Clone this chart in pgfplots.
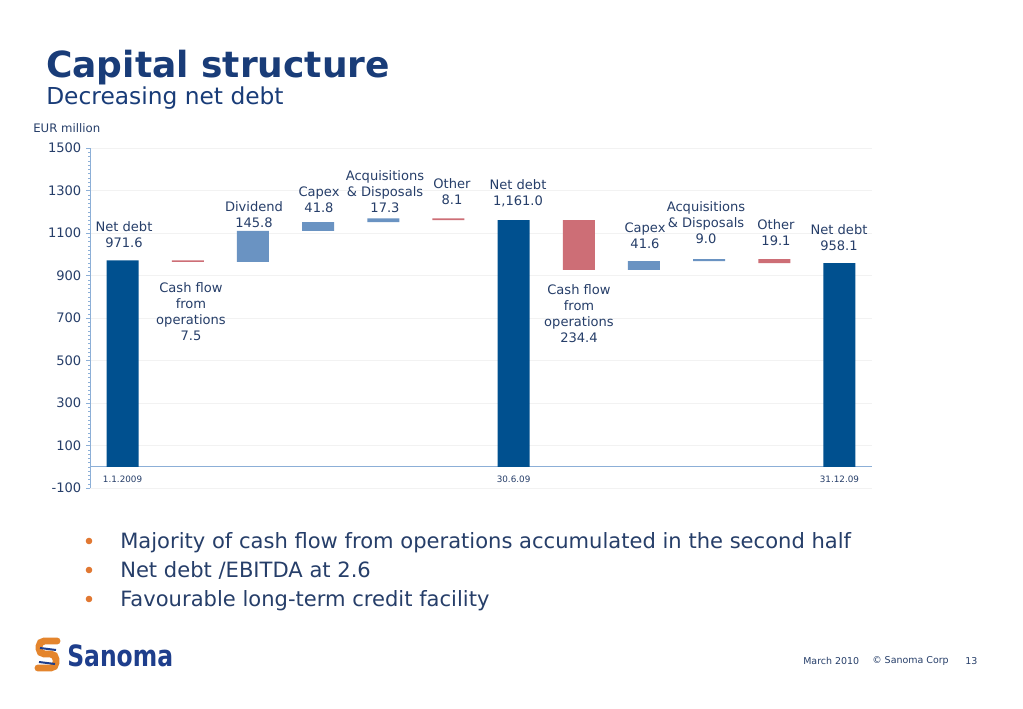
\documentclass[border=0pt]{standalone}
\usepackage{pgfplots}
\pgfplotsset{compat=1.18}
\usepackage{fontspec}
\setmainfont{DejaVu Sans}
\usepackage{graphicx}
\definecolor{dkblue}{RGB}{0,80,143}
\definecolor{stblue}{RGB}{106,147,194}
\definecolor{redbar}{RGB}{205,110,118}
\definecolor{txt}{RGB}{38,62,105}
\definecolor{ttl}{RGB}{25,60,120}
\definecolor{axl}{RGB}{140,175,215}
\definecolor{bul}{RGB}{225,120,50}
\definecolor{logoblue}{RGB}{30,62,140}
\begin{document}
\begin{tikzpicture}[x=0.75pt,y=0.75pt]
\fill[white] (0,0) rectangle (1023,708);
\begin{axis}[
 at={(67.5pt,165pt)}, anchor=south west,
 scale only axis, width=586.5pt, height=255pt,
 xmin=-0.5, xmax=11.5, ymin=-100, ymax=1500,
 ybar stacked, bar width=24pt,
 axis x line=none, axis y line=left,
 axis line style={-,draw=axl},
 ytick={-100,100,...,1500}, minor y tick num=9,
 xtick=\empty,
 tick align=outside,
 major tick length=3pt, minor tick length=1.5pt,
 tick style={draw=axl},
 ymajorgrids, major grid style={draw=black!5},
 yticklabel style={font=\fontsize{9.8}{12}\selectfont, text=txt},
 /pgf/number format/1000 sep={},
 /pgf/number format/assume math mode=true,
 clip=false,
]
\addplot[fill=none, draw=none] coordinates {(0,0) (1,964.1) (2,964.1) (3,1109.9) (4,1151.7) (5,1160.9) (6,0) (7,926.6) (8,926.6) (9,968.2) (10,958.1) (11,0)};
\addplot[fill=dkblue, draw=none] coordinates {(0,971.6) (1,0) (2,0) (3,0) (4,0) (5,0) (6,1161.0) (7,0) (8,0) (9,0) (10,0) (11,958.1)};
\addplot[fill=stblue, draw=none] coordinates {(0,0) (1,0) (2,145.8) (3,41.8) (4,17.3) (5,0) (6,0) (7,0) (8,41.6) (9,9.0) (10,0) (11,0)};
\addplot[fill=redbar, draw=none] coordinates {(0,0) (1,7.5) (2,0) (3,0) (4,0) (5,8.1) (6,0) (7,234.4) (8,0) (9,0) (10,19.1) (11,0)};
\draw[axl] (axis cs:-0.5,0) -- (axis cs:11.5,0);
\node[font=\fontsize{6.6}{8}\selectfont, text=txt] at (axis cs:0,-58) {1.1.2009};
\node[font=\fontsize{6.6}{8}\selectfont, text=txt] at (axis cs:6,-58) {30.6.09};
\node[font=\fontsize{6.6}{8}\selectfont, text=txt] at (axis cs:11,-58) {31.12.09};
\end{axis}
% title
\node[anchor=base west, font=\fontsize{27}{32}\selectfont\bfseries, text=ttl, inner sep=0pt] at (46,630) {Capital structure};
\node[anchor=base west, font=\fontsize{17.5}{21}\selectfont, text=ttl, inner sep=0pt] at (46,603) {Decreasing net debt};
\node[anchor=west, font=\fontsize{8.8}{10}\selectfont, text=txt, inner sep=0pt] at (33,580) {EUR million};
% annotations
\begin{scope}[every node/.style={font=\fontsize{9.8}{12}\selectfont, text=txt, align=center, inner sep=0pt}]
\node at (124,473) {Net debt\\971.6};
\node at (191,396.5) {Cash flow\\from\\operations\\7.5};
\node at (254,493) {Dividend\\145.8};
\node at (319,508) {Capex\\41.8};
\node at (385,516) {Acquisitions\\\& Disposals\\17.3};
\node at (452,516) {Other\\8.1};
\node at (518,515) {Net debt\\1,161.0};
\node at (579,394) {Cash flow\\from\\operations\\234.4};
\node at (645,472.5) {Capex\\41.6};
\node at (706,485) {Acquisitions\\\& Disposals\\9.0};
\node at (776,475) {Other\\19.1};
\node at (839,470) {Net debt\\958.1};
\end{scope}
% bullets
\begin{scope}[every node/.style={anchor=base west, font=\fontsize{15.8}{19}\selectfont, text=txt, inner sep=0pt}]
\fill[bul] (89,167) circle (3.3);
\node at (120,160) {Majority of cash flow from operations accumulated in the second half};
\fill[bul] (89,138) circle (3.3);
\node at (120,131) {Net debt /EBITDA at 2.6};
\fill[bul] (89,109) circle (3.3);
\node at (120,102) {Favourable long-term credit facility};
\end{scope}
% footer
\begin{scope}[every node/.style={anchor=west, font=\fontsize{7.1}{9}\selectfont, text=txt, inner sep=0pt}]
\node at (803,47) {March 2010};
\node at (872,47) {© Sanoma Corp};
\node at (965,47) {13};
\end{scope}
% logo
\draw[line width=5.2pt, color=bul!90!yellow, rounded corners=4pt, line cap=round]
  (57,67) -- (39,67) -- (39,54) -- (56,54) -- (56,40) -- (38,40);
\draw[logoblue, line width=1.5pt] (40,60) -- (56,58);
\draw[logoblue, line width=1.5pt] (39,46) -- (55,44);
\node[anchor=base west, font=\fontsize{22}{26}\selectfont\bfseries, text=logoblue, inner sep=0pt] at (67,42) {\scalebox{0.8}[1]{Sanoma}};
\pgfresetboundingbox
\path (0,0) rectangle (1023,708);
\end{tikzpicture}
\end{document}
